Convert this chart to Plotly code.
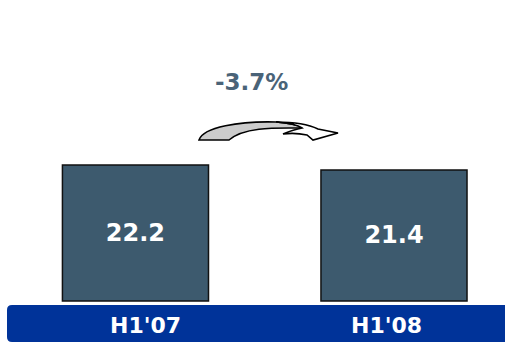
import plotly.graph_objects as go

# Half-year values
periods = ["H1'07", "H1'08"]
values = [22.2, 21.4]
change_label = "-3.7%"

W, H = 508, 346
BAR_COLOR = "#3d5a6e"
BAND_COLOR = "#003399"
FONT = "DejaVu Sans"


def px(x, y):
    """Convert pixel coordinates to paper coordinates."""
    return x / W, 1 - y / H


def path(points_cmds):
    out = []
    for cmd, pts in points_cmds:
        coords = " ".join("%.5f,%.5f" % px(*p) for p in pts)
        out.append(cmd + " " + coords if coords else cmd)
    return " ".join(out)


xs = list(range(len(periods)))

fig = go.Figure()
fig.add_trace(go.Bar(
    x=xs, y=values, width=0.565,
    marker=dict(color=BAR_COLOR, line=dict(color="#111111", width=1.5)),
    text=["%.1f" % v for v in values],
    textposition="inside", insidetextanchor="middle",
    textfont=dict(family=FONT, size=24, color="white", weight="bold"),
    hoverinfo="skip",
))

shapes = []
# Category band along the bottom
shapes.append(dict(
    type="path", xref="paper", yref="paper", layer="below",
    path=path([
        ("M", [(12, 305)]), ("L", [(505, 305)]), ("L", [(505, 342)]),
        ("L", [(12, 342)]), ("Q", [(7, 342), (7, 337)]), ("L", [(7, 310)]),
        ("Q", [(7, 305), (12, 305)]), ("Z", []),
    ]),
    fillcolor=BAND_COLOR, line=dict(width=0),
))
# Curved arrow: shaded underside on the left
shapes.append(dict(
    type="path", xref="paper", yref="paper",
    path=path([
        ("M", [(199, 140)]),
        ("C", [(203, 127), (240, 121), (276, 122)]),
        ("C", [(290, 123), (298, 125), (302, 128)]),
        ("C", [(280, 128), (245, 126), (229, 140)]),
        ("Z", []),
    ]),
    fillcolor="#cccccc", line=dict(color="black", width=1.6),
))
# Curved arrow: front face with arrowhead on the right
shapes.append(dict(
    type="path", xref="paper", yref="paper",
    path=path([
        ("M", [(276, 122)]),
        ("C", [(295, 122), (308, 124), (318, 129)]),
        ("L", [(338, 133)]),
        ("L", [(313, 140)]),
        ("L", [(307, 135)]),
        ("C", [(298, 133), (290, 133), (283, 134)]),
        ("C", [(290, 131), (296, 129), (302, 128)]),
        ("C", [(298, 125), (290, 123), (276, 122)]),
        ("Z", []),
    ]),
    fillcolor="white", line=dict(color="black", width=1.6),
))

annotations = []
# Category labels inside the band
label_offsets = [10.0, -7.5]
for i, (p, off) in enumerate(zip(periods, label_offsets)):
    annotations.append(dict(
        x=i, y=1 - 325.5 / H, xref="x", yref="paper", yanchor="middle",
        xshift=off, text=p, showarrow=False,
        font=dict(family=FONT, size=22, color="white", weight="bold"),
    ))
# Change label
annotations.append(dict(
    x=251 / W, y=1 - 81.5 / H, xref="paper", yref="paper",
    xanchor="center", yanchor="middle",
    text=change_label, showarrow=False,
    font=dict(family=FONT, size=23, color="#4a6378", weight="bold"),
))

fig.update_layout(
    width=W, height=H,
    margin=dict(l=0, r=0, t=0, b=0),
    paper_bgcolor="white", plot_bgcolor="white",
    showlegend=False,
    xaxis=dict(range=[-0.524, 1.441], visible=False, fixedrange=True),
    yaxis=dict(range=[-7.35, 49.13], visible=False, fixedrange=True),
    shapes=shapes, annotations=annotations,
    uniformtext=dict(minsize=8, mode="show"),
)

fig.write_html("out.html")
